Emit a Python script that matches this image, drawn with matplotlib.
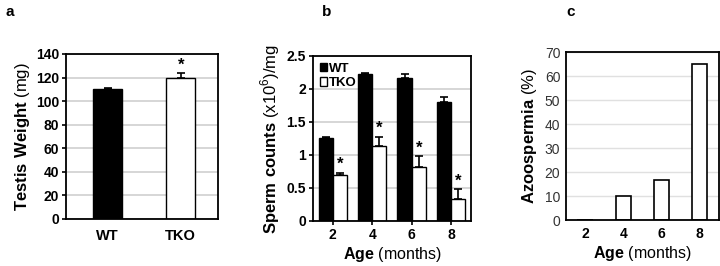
import numpy as np
import matplotlib
matplotlib.use('Agg')
import matplotlib.pyplot as plt
from matplotlib.patches import Patch

plt.rcParams['font.family'] = ['Liberation Sans', 'DejaVu Sans']
plt.rcParams['mathtext.fontset'] = 'custom'
plt.rcParams['mathtext.rm'] = 'Liberation Sans'
plt.rcParams['mathtext.bf'] = 'Liberation Sans:bold'

# panel a: testis weight
genotypes = ['WT', 'TKO']
weight = [110, 120]
weight_err = [1, 3.5]

# panel b: sperm counts
ages = ['2', '4', '6', '8']
wt_counts = [1.26, 2.22, 2.17, 1.80]
wt_err = [0.01, 0.02, 0.05, 0.08]
tko_counts = [0.69, 1.13, 0.82, 0.33]
tko_err = [0.04, 0.15, 0.16, 0.15]

# panel c: azoospermia
azoo = [0, 10, 16.5, 65]

GRID = '#d0d0d0'
TICK = 10
LAB = 12
ERR = dict(ecolor='black', capsize=3, elinewidth=1.2, capthick=1.2)

fig = plt.figure(figsize=(7.2, 2.66), dpi=100)


def style_box(ax):
    for s in ax.spines.values():
        s.set_linewidth(1.3)
        s.set_color('black')
    ax.yaxis.grid(True, color=GRID, linewidth=1.2)
    ax.set_axisbelow(True)


# ---- a ----
ax = fig.add_axes([0.0917, 0.1767, 0.2111, 0.6203])
x = np.arange(len(genotypes))
ax.bar(x, weight, width=0.4, color=['black', 'white'], edgecolor='black',
       linewidth=1.0, yerr=[np.zeros(2), weight_err], error_kw=ERR)
ax.text(x[1], weight[1] + weight_err[1] + 1, '*', ha='center', va='bottom',
        fontsize=12, fontweight='bold')
ax.set_xlim(-0.57, 1.51)
ax.set_ylim(0, 140)
ax.set_yticks(np.arange(0, 141, 20))
ax.set_xticks(x)
ax.set_xticklabels(genotypes, fontweight='bold', fontsize=TICK + 0.5)
ax.tick_params(axis='x', length=0, pad=7)
ax.tick_params(axis='y', length=3, width=1.2, labelsize=TICK, pad=2)
for t in ax.get_yticklabels():
    t.set_fontweight('bold')
ax.set_ylabel(r'$\bf{Testis\ Weight}$ (mg)', fontsize=LAB, labelpad=3)
style_box(ax)
fig.text(0.007, 0.955, 'a', fontsize=11, fontweight='bold', va='center')

# ---- b ----
ax = fig.add_axes([0.4347, 0.1692, 0.2194, 0.6203])
x = np.arange(len(ages))
w = 0.36
ax.bar(x - w / 2, wt_counts, width=w, color='black', edgecolor='black', linewidth=1.0,
       yerr=[np.zeros(4), wt_err], error_kw=ERR)
ax.bar(x + w / 2, tko_counts, width=w, color='white', edgecolor='black', linewidth=1.0,
       yerr=[np.zeros(4), tko_err], error_kw=ERR)
for xi, v, e in zip(x, tko_counts, tko_err):
    ax.text(xi + w / 2, v + e + 0.01, '*', ha='center', va='bottom',
            fontsize=12, fontweight='bold')
ax.set_xlim(-0.5, 3.5)
ax.set_ylim(0, 2.5)
ax.set_yticks([0, 0.5, 1, 1.5, 2, 2.5])
ax.set_yticklabels(['0', '0.5', '1', '1.5', '2', '2.5'])
ax.set_xticks(x)
ax.set_xticklabels(ages, fontweight='bold', fontsize=TICK)
ax.tick_params(axis='x', length=3, width=1.2, pad=2)
ax.tick_params(axis='y', length=3, width=1.2, labelsize=TICK, pad=2)
for t in ax.get_yticklabels():
    t.set_fontweight('bold')
ax.set_ylabel(r'$\bf{Sperm\ counts}$ (x10$^6$)/mg', fontsize=LAB, labelpad=3)
ax.set_xlabel(r'$\bf{Age}$ (months)', fontsize=11.5, labelpad=2)
ax.legend(handles=[Patch(facecolor='black', edgecolor='black', label='WT'),
                   Patch(facecolor='white', edgecolor='black', label='TKO')],
          loc='upper left', frameon=False, handlelength=0.6, handleheight=0.6,
          handletextpad=0.1, labelspacing=0.2, borderaxespad=0.1,
          prop=dict(weight='bold', size=9.5))
style_box(ax)
fig.text(0.447, 0.955, 'b', fontsize=11, fontweight='bold', va='center')

# ---- c ----
ax = fig.add_axes([0.786, 0.1729, 0.2125, 0.6316])
ax.bar(x, azoo, width=0.4, color='white', edgecolor='black', linewidth=1.2)
ax.set_xlim(-0.5, 3.5)
ax.set_ylim(0, 70)
ax.set_yticks(np.arange(0, 71, 10))
ax.set_xticks(x)
ax.set_xticklabels(ages, fontweight='bold', fontsize=TICK)
ax.tick_params(axis='x', length=0, pad=5)
ax.tick_params(axis='y', length=0, labelsize=TICK, pad=4, labelcolor='#333333')
ax.set_ylabel(r'$\bf{Azoospermia}$ (%)', fontsize=LAB, labelpad=4)
ax.set_xlabel(r'$\bf{Age}$ (months)', fontsize=11.5, labelpad=2)
style_box(ax)
ax.yaxis.grid(True, color='#e0e0e0', linewidth=1.0)
fig.text(0.787, 0.955, 'c', fontsize=11, fontweight='bold', va='center')

fig.savefig('out.png', dpi=100)
